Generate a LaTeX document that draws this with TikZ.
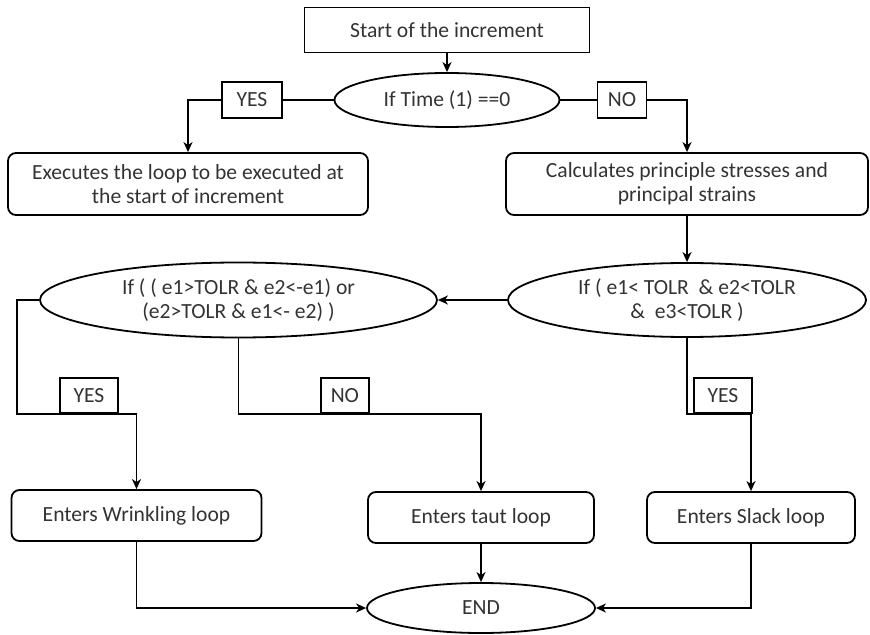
\documentclass[tikz,border=0pt]{standalone}
\usepackage{fontspec}
\setmainfont{Carlito}
\usetikzlibrary{arrows.meta,shapes.geometric}

\begin{document}
\begin{tikzpicture}[
  x=0.5pt, y=-0.5pt,
  font=\fontsize{10.8}{12}\selectfont,
  line width=0.9pt,
  box/.style={draw, align=center, inner sep=2pt, text=black!80},
  plain/.style={box, minimum width=142.5pt, minimum height=22.5pt},
  stepbox/.style={box, rounded corners=4pt},
  cond/.style={box, ellipse, inner sep=0pt},
  tag/.style={box, inner sep=1pt},
  arr/.style={-{Stealth[length=5pt, width=4.5pt, inset=1.5pt]}},
]
  \useasboundingbox (0,0) rectangle (870,635);

  % Top of the increment
  \node[plain] (start) at (447,30) {Start of the increment};
  \node[cond, minimum width=112.5pt, minimum height=27pt] (time) at (447,100)
    {If Time (1) ==0};
  \draw[arr] (start) -- (time);

  % First test: YES / NO branches
  \node[tag, minimum width=30pt, minimum height=18pt] (yesA) at (252,100) {YES};
  \node[tag, minimum width=24.5pt, minimum height=18pt] (noA) at (622,100) {NO};

  \node[stepbox, minimum width=180pt, minimum height=31pt] (exec) at (188,184)
    {Executes the loop to be executed at\\the start of increment};
  \node[stepbox, minimum width=181pt, minimum height=31pt] (calc) at (687,184)
    {Calculates principle stresses and\\principal strains};

  \draw (time.west) -- (yesA.east);
  \draw[arr] (yesA.west) -| (exec.north);
  \draw (time.east) -- (noA.west);
  \draw[arr] (noA.east) -| (calc.north);

  % Strain tests
  \node[cond, minimum width=179pt, minimum height=37pt] (slackchk) at (687,300)
    {If ( e1< TOLR ~\& e2<TOLR\\\&~ e3<TOLR )};
  \node[cond, minimum width=198.5pt, minimum height=37.5pt] (wrinkchk) at (238.5,300)
    {If ( ( e1>TOLR \& e2<-e1) or\\(e2>TOLR \& e1<- e2) )};
  \draw[arr] (calc) -- (slackchk);
  \draw[arr] (slackchk.west) -- (wrinkchk.east);

  % Loops
  \node[stepbox, minimum width=125pt, minimum height=25.5pt] (wrink) at (136.5,515.5)
    {Enters Wrinkling loop};
  \node[stepbox, minimum width=113pt, minimum height=25.5pt] (taut) at (481,517.5)
    {Enters taut loop};
  \node[stepbox, minimum width=104pt, minimum height=25.5pt] (slack) at (751,517.5)
    {Enters Slack loop};

  \node[tag, anchor=south west, minimum width=29pt, minimum height=17.5pt] (yesB) at (59,414) {YES};
  \node[tag, anchor=south west, minimum width=24pt, minimum height=17.5pt] (noB) at (320,414) {NO};
  \node[tag, anchor=south west, minimum width=29pt, minimum height=17.5pt] (yesC) at (693,414) {YES};

  \draw[arr] (wrinkchk.west) -- ++(-22,0) |- (yesB.south) -| (wrink.north);
  \draw[arr] (wrinkchk.south) |- (noB.south) -| (taut.north);
  \draw[arr] (slackchk.south) |- (yesC.south) -| (slack.north);

  % End
  \node[cond, minimum width=114pt, minimum height=25pt] (end) at (481,608) {END};
  \draw[arr] (wrink.south) |- (end.west);
  \draw[arr] (taut) -- (end);
  \draw[arr] (slack.south) |- (end.east);
\end{tikzpicture}
\end{document}
